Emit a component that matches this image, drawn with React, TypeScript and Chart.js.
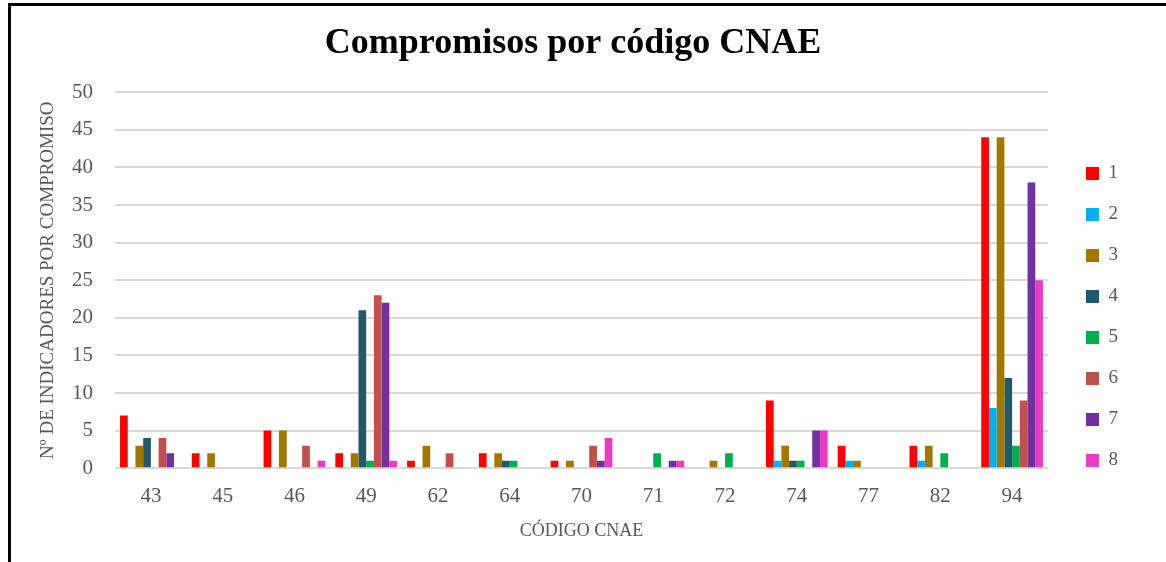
import React, { useEffect, useRef } from "react";
import { Chart, registerables } from "chart.js";

Chart.register(...registerables);

const categories = ["43", "45", "46", "49", "62", "64", "70", "71", "72", "74", "77", "82", "94"];
const seriesNames = ["1", "2", "3", "4", "5", "6", "7", "8"];
const s1 = [7, 2, 5, 2, 1, 2, 1, 0, 0, 9, 3, 3, 44];
const s2 = [0, 0, 0, 0, 0, 0, 0, 0, 0, 1, 1, 1, 8];
const s3 = [3, 2, 5, 2, 3, 2, 1, 0, 1, 3, 1, 3, 44];
const s4 = [4, 0, 0, 21, 0, 1, 0, 0, 0, 1, 0, 0, 12];
const s5 = [0, 0, 0, 1, 0, 1, 0, 2, 2, 1, 0, 2, 3];
const s6 = [4, 0, 3, 23, 2, 0, 3, 0, 0, 0, 0, 0, 9];
const s7 = [2, 0, 0, 22, 0, 0, 1, 1, 0, 5, 0, 0, 38];
const s8 = [0, 0, 1, 1, 0, 0, 4, 1, 0, 5, 0, 0, 25];
const seriesValues = [s1, s2, s3, s4, s5, s6, s7, s8];
const seriesColors = ["#FF0000", "#00B0F0", "#A07800", "#215968", "#00B050", "#C0504D", "#7030A0", "#E83CC2"];

const FONT = "'Liberation Serif', serif";

export default function App() {
  const ref = useRef<HTMLCanvasElement | null>(null);
  useEffect(() => {
    if (!ref.current) return;
    const chart = new Chart(ref.current, {
      type: "bar",
      data: {
        labels: categories,
        datasets: seriesNames.map((n, i) => ({
          label: n,
          data: seriesValues[i],
          backgroundColor: seriesColors[i],
          borderWidth: 0,
          categoryPercentage: 0.86,
          barPercentage: 1,
        })),
      },
      options: {
        responsive: false,
        animation: false,
        layout: { padding: { left: 18, right: 38, top: 0, bottom: 20 } },
        plugins: {
          title: {
            display: true,
            text: "Compromisos por código CNAE",
            color: "#000000",
            font: { family: FONT, size: 36, weight: "bold" },
            padding: { top: 22, bottom: 27 },
          },
          legend: {
            position: "right",
            align: "center",
            title: {
              display: true,
              text: " ",
              font: { family: FONT, size: 10 },
              padding: { top: 80, bottom: 0 },
            },
            labels: {
              boxWidth: 13,
              boxHeight: 13,
              padding: 22,
              color: "#595959",
              font: { family: FONT, size: 19 },
            },
          },
          tooltip: { enabled: false },
        },
        scales: {
          x: {
            grid: { display: false, drawTicks: false },
            border: { display: false },
            ticks: { color: "#595959", font: { family: FONT, size: 21 }, padding: 16 },
            title: {
              display: true,
              text: "CÓDIGO CNAE",
              color: "#595959",
              font: { family: FONT, size: 18 },
              padding: { top: 0, bottom: 0 },
            },
            afterFit: (scale: any) => {
              scale.height = scale.height - 5;
            },
          },
          y: {
            min: 0,
            max: 50,
            ticks: { stepSize: 5, color: "#595959", font: { family: FONT, size: 21 }, padding: 22 },
            grid: { color: "#D9D9D9", lineWidth: 2, drawTicks: false },
            border: { display: false },
            title: {
              display: true,
              text: "Nº DE INDICADORES POR COMPROMISO",
              color: "#595959",
              font: { family: FONT, size: 19 },
              padding: { top: 19, bottom: 0 },
            },
            afterFit: (scale: any) => {
              scale.width = 97;
            },
          },
          yr: {
            position: "right",
            min: 0,
            max: 50,
            grid: { display: false, drawTicks: false },
            border: { display: false },
            ticks: { display: false },
            afterFit: (scale: any) => {
              scale.width = 16;
            },
          },
        },
      },
    });
    return () => chart.destroy();
  }, []);
  return (
    <div style={{ position: "absolute", left: 0, top: 0, width: 1166, height: 562, overflow: "hidden", background: "#fff" }}>
      <canvas ref={ref} width={1166} height={562} style={{ position: "absolute", left: 0, top: 0 }} />
      <div
        style={{
          position: "absolute",
          left: 8,
          top: 3,
          width: 1200,
          height: 700,
          borderTop: "3px solid #000",
          borderLeft: "3px solid #000",
          pointerEvents: "none",
        }}
      />
    </div>
  );
}
